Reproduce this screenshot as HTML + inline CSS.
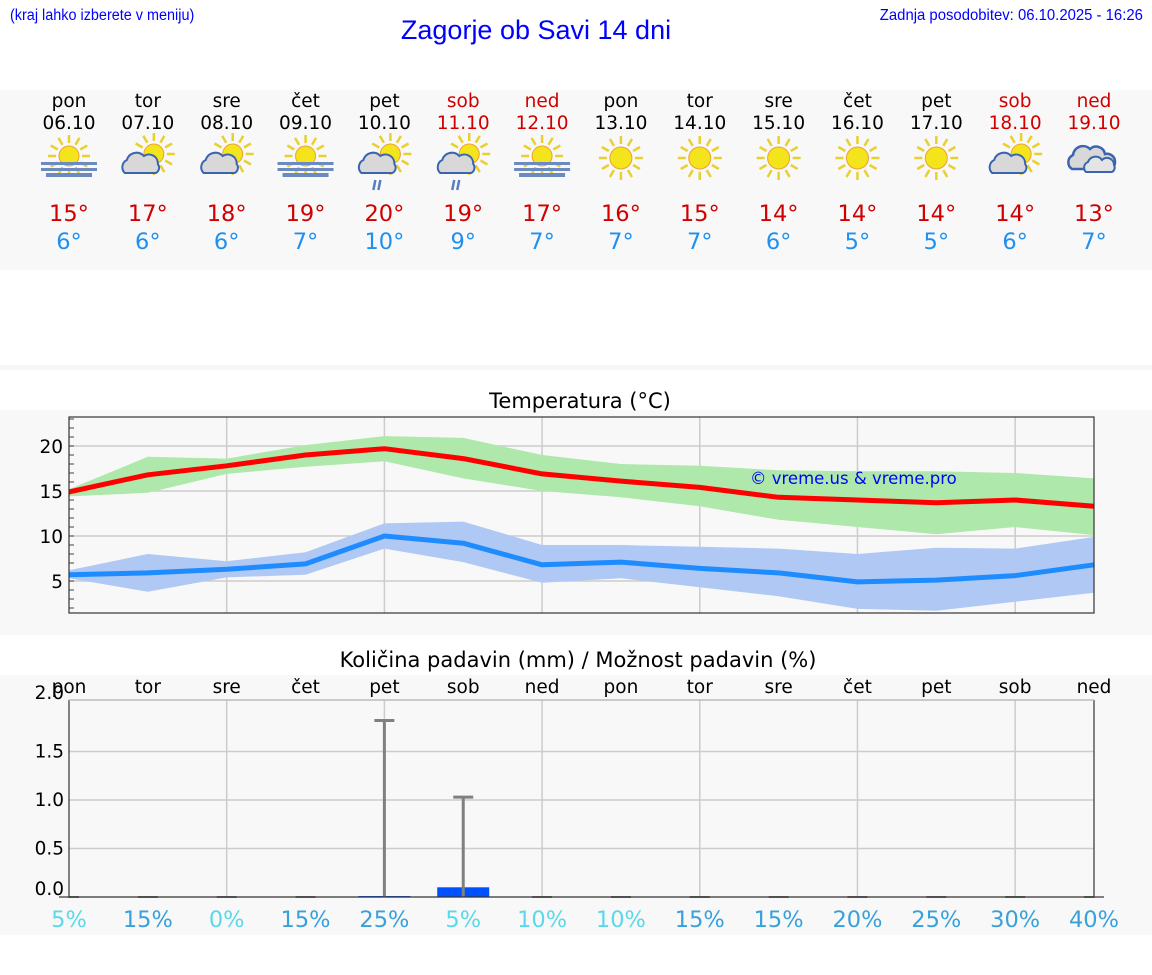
<!DOCTYPE html>
<html><head><meta charset="utf-8">
<style>
body{margin:0;width:1152px;height:975px;background:#fff;position:relative;overflow:hidden;font-family:"DejaVu Sans","Liberation Sans",sans-serif}
.abs{position:absolute}
#hdrL{left:10px;top:7px;font:15.5px "Liberation Sans",sans-serif;color:#00f;transform:scaleX(0.93);transform-origin:left}
#hdrR{right:9px;top:7px;font:16px "Liberation Sans",sans-serif;color:#00f;transform:scaleX(0.93);transform-origin:right}
#title{left:0;width:1072px;top:15px;text-align:center;font:27px "Liberation Sans",sans-serif;color:#00f}
</style></head><body>
<div id="hdrL" class="abs">(kraj lahko izberete v meniju)</div>
<div id="title" class="abs">Zagorje ob Savi 14 dni</div>
<div id="hdrR" class="abs">Zadnja posodobitev: 06.10.2025 - 16:26</div>
<svg id="svg" class="abs" style="left:0;top:0" width="1152" height="975" xmlns="http://www.w3.org/2000/svg" font-family="DejaVu Sans, Liberation Sans, sans-serif"></svg>
<script>
const days=["pon","tor","sre","čet","pet","sob","ned","pon","tor","sre","čet","pet","sob","ned"];
const dates=["06.10","07.10","08.10","09.10","10.10","11.10","12.10","13.10","14.10","15.10","16.10","17.10","18.10","19.10"];
const icons=["fog","partly","partly","fog","rain","rain","fog","sun","sun","sun","sun","sun","partly","cloudy"];
const hiLabels=[15,17,18,19,20,19,17,16,15,14,14,14,14,13];
const loLabels=[6,6,6,7,10,9,7,7,7,6,5,5,6,7];
const hiLine=[14.9,16.8,17.8,19,19.7,18.6,16.9,16.1,15.4,14.3,14,13.7,14,13.3];
const hiUpper=[15.2,18.8,18.6,20.1,21.1,20.9,19,18,17.8,17.3,17.2,17.2,17,16.4];
const hiLower=[14.4,14.8,16.9,17.7,18.3,16.4,15,14.3,13.3,11.8,11,10.2,11,10.1];
const loLine=[5.7,5.9,6.3,6.9,10,9.2,6.8,7.1,6.4,5.9,4.9,5.1,5.6,6.8];
const loUpper=[6.2,8,7.2,8.2,11.4,11.6,9,9,8.8,8.6,8,8.7,8.6,9.9];
const loLower=[5.3,3.8,5.4,5.7,8.6,7.1,4.8,5.3,4.3,3.3,1.9,1.7,2.7,3.7];
const tempTicks=[5,10,15,20];
const precip=[0,0,0,0,0.01,0.1,0,0,0,0,0,0,0,0];
const precipMax=[0,0,0,0,1.82,1.03,0,0,0,0,0,0,0,0];
const chance=[5,15,0,15,25,5,10,10,15,15,20,25,30,40];
const precipTicks=[0,0.5,1.0,1.5,2.0];

const svg=document.getElementById('svg');
const NS='http://www.w3.org/2000/svg';
function el(tag,attrs,parent){const e=document.createElementNS(NS,tag);for(const k in attrs)e.setAttribute(k,attrs[k]);(parent||svg).appendChild(e);return e;}
function tx(x,y,s,size,fill,anchor){const t=el('text',{x:x,y:y,'font-size':size,fill:fill,'text-anchor':anchor||'middle'});t.textContent=s;return t;}
const X0=69,X1=1094;
const xd=i=>X0+i*(X1-X0)/13;
const weekend=i=>days[i]==="sob"||days[i]==="ned";

let r;
r=el('rect',{x:0,y:90,width:1152,height:180,fill:'#f8f8f8'});

el('rect',{x:0,y:365,width:1152,height:5,fill:'#f6f6f6'});
r=el('rect',{x:0,y:410,width:1152,height:225,fill:'#f8f8f8'});

r=el('rect',{x:0,y:675,width:1152,height:260,fill:'#f8f8f8'});


function sun(g,cx,cy,rad){
  for(let a=0;a<12;a++){const an=a*Math.PI/6;
    el('line',{x1:cx+Math.cos(an)*(rad+3),y1:cy+Math.sin(an)*(rad+3),x2:cx+Math.cos(an)*(rad+11),y2:cy+Math.sin(an)*(rad+11),stroke:'#e8d030','stroke-width':2.5},g);}
  el('circle',{cx:cx,cy:cy,r:rad,fill:'#f4e41c',stroke:'#f0a030','stroke-width':1},g);
}
function cloud(g,cx,cy){
  el('path',{d:`M${cx-16},${cy+9} a8 8 0 0 1 2,-13 a10 10 0 0 1 17,-4 a9 9 0 0 1 14,8 a6 6 0 0 1 -2,9 z`,fill:'#d8d8d8',stroke:'#3a64b0','stroke-width':2},g);
}
function drawIcon(i,type){
  const g=el('g',{});
  
  
  const cx=xd(i),cy=158;
  if(type==='fog'){sun(g,cx,cy-2,10);
    el('rect',{x:cx-28,y:cy+4,width:56,height:3,fill:'#6a8ac0'},g);
    el('rect',{x:cx-28,y:cy+10,width:56,height:3,fill:'#6a8ac0'},g);
    el('rect',{x:cx-23,y:cy+15,width:46,height:4,fill:'#6a8ac0'},g);}
  else if(type==='sun'){sun(g,cx,cy,11);}
  else if(type==='partly'||type==='rain'){sun(g,cx+6,cy-4,10);cloud(g,cx-7,cy+6);
    if(type==='rain'){el('path',{d:`M${cx-9},${cy+22} l-2,10 M${cx-4},${cy+22} l-2,10`,stroke:'#5a7cc0','stroke-width':2.5},g);}}
  else if(type==='cloudy'){
    el('path',{d:`M${cx-22},${cy+11} a8 8 0 0 1 1,-14 a10 10 0 0 1 17,-6 a9 9 0 0 1 15,5 a8 8 0 0 1 10,8 a7 7 0 0 1 -5,7 z`,fill:'#d8d8d8',stroke:'#3a64b0','stroke-width':2.5},g);
    el('path',{d:`M${cx-8},${cy+14} a6 6 0 0 1 2,-10 a8 8 0 0 1 14,-2 a7 7 0 0 1 12,5 a5 5 0 0 1 -2,7 z`,fill:'#e4e4e4',stroke:'#3a64b0','stroke-width':2},g);}
}
for(let i=0;i<14;i++){
  const c=weekend(i)?'#d00000':'#000';
  let t=tx(xd(i),107,days[i],18.5,c);
  
  t=tx(xd(i),129,dates[i],18.5,c);
  
  drawIcon(i,icons[i]);
  t=tx(xd(i),221,hiLabels[i]+'°',22.5,'#d00000');
  
  t=tx(xd(i),249,loLabels[i]+'°',22.5,'#2090f0');
  
}

const TY0=417,TY1=613;
const ty=v=>626-9*v;
let t=tx(580,408,'Temperatura (°C)',21,'#000');

r=el('rect',{x:X0,y:TY0,width:X1-X0,height:TY1-TY0,fill:'#f8f8f8'});

tempTicks.forEach(v=>{el('line',{x1:X0,x2:X1,y1:ty(v),y2:ty(v),stroke:'#ccc','stroke-width':1.5});
  const l=tx(63,ty(v)+7,String(v),18.5,'#000','end');
  });
for(let v=2;v<=23;v++){el('line',{x1:X0,x2:X0+5,y1:ty(v),y2:ty(v),stroke:'#444','stroke-width':1});}
for(let i=2;i<13;i+=2)el('line',{x1:xd(i),x2:xd(i),y1:TY0,y2:TY1,stroke:'#ccc','stroke-width':1.5});
function band(up,lo,fill,name){
  let d='M'+up.map((v,i)=>xd(i)+','+ty(v)).join(' L')+' L'+lo.map((v,i)=>xd(i)+','+ty(v)).reverse().join(' L')+'Z';
  const p=el('path',{d:d,fill:fill});
  
}
function line(vals,stroke,name){
  const p=el('polyline',{points:vals.map((v,i)=>xd(i)+','+ty(v)).join(' '),fill:'none',stroke:stroke,'stroke-width':5,'stroke-linejoin':'round'});
  
}
band(hiUpper,hiLower,'#aee8aa','max-temp-range');
band(loUpper,loLower,'#b0c8f4','min-temp-range');
line(hiLine,'#ff0000','max-temp-line');
line(loLine,'#1e8cff','min-temp-line');
t=tx(750,484,'© vreme.us & vreme.pro',16.5,'#0000ff','start');

el('rect',{x:X0,y:TY0,width:X1-X0,height:TY1-TY0,fill:'none',stroke:'#333','stroke-width':1.2});

const PY0=700,PY1=897;
const py=v=>897-97*v;
t=tx(578,667,'Količina padavin (mm) / Možnost padavin (%)',21,'#000');

precipTicks.forEach(v=>{if(v>0&&v<2)el('line',{x1:X0,x2:X1,y1:py(v),y2:py(v),stroke:'#ccc','stroke-width':1.5});
  const l=tx(64,Math.min(py(v),889)+(v===2?-4:6),v.toFixed(1),18.5,'#000','end');
  });
for(let i=2;i<13;i+=2)el('line',{x1:xd(i),x2:xd(i),y1:PY0,y2:PY1,stroke:'#ccc','stroke-width':1.5});
for(let i=0;i<14;i++){
  let l=tx(xd(i),693,days[i],18.5,'#000');
  
  if(precip[i]>0){const b=el('rect',{x:xd(i)-26,y:py(precip[i]),width:52,height:Math.max(1.5,PY1-py(precip[i])),fill:'#0050ff'});
    }
  if(precipMax[i]>0){
    const e=el('path',{d:`M${xd(i)},${PY1} V${py(precipMax[i])} M${xd(i)-10},${py(precipMax[i])} h20`,stroke:'#808080','stroke-width':3,fill:'none'});
    
  } else el('line',{x1:xd(i)-10,x2:xd(i)+10,y1:PY1,y2:PY1,stroke:'#808080','stroke-width':2});
  const c=chance[i]<=10?'#5bd8ea':'#38a0da';
  l=tx(xd(i),927,chance[i]+'%',22.5,c);
  
}
el('path',{d:`M${X0},${PY0} V${PY1} H${X1} V${PY0}`,fill:'none',stroke:'#333','stroke-width':1.2});
el('line',{x1:X0,x2:X1,y1:PY0,y2:PY0,stroke:'#bbb','stroke-width':1.5});
</script>
</body></html>
